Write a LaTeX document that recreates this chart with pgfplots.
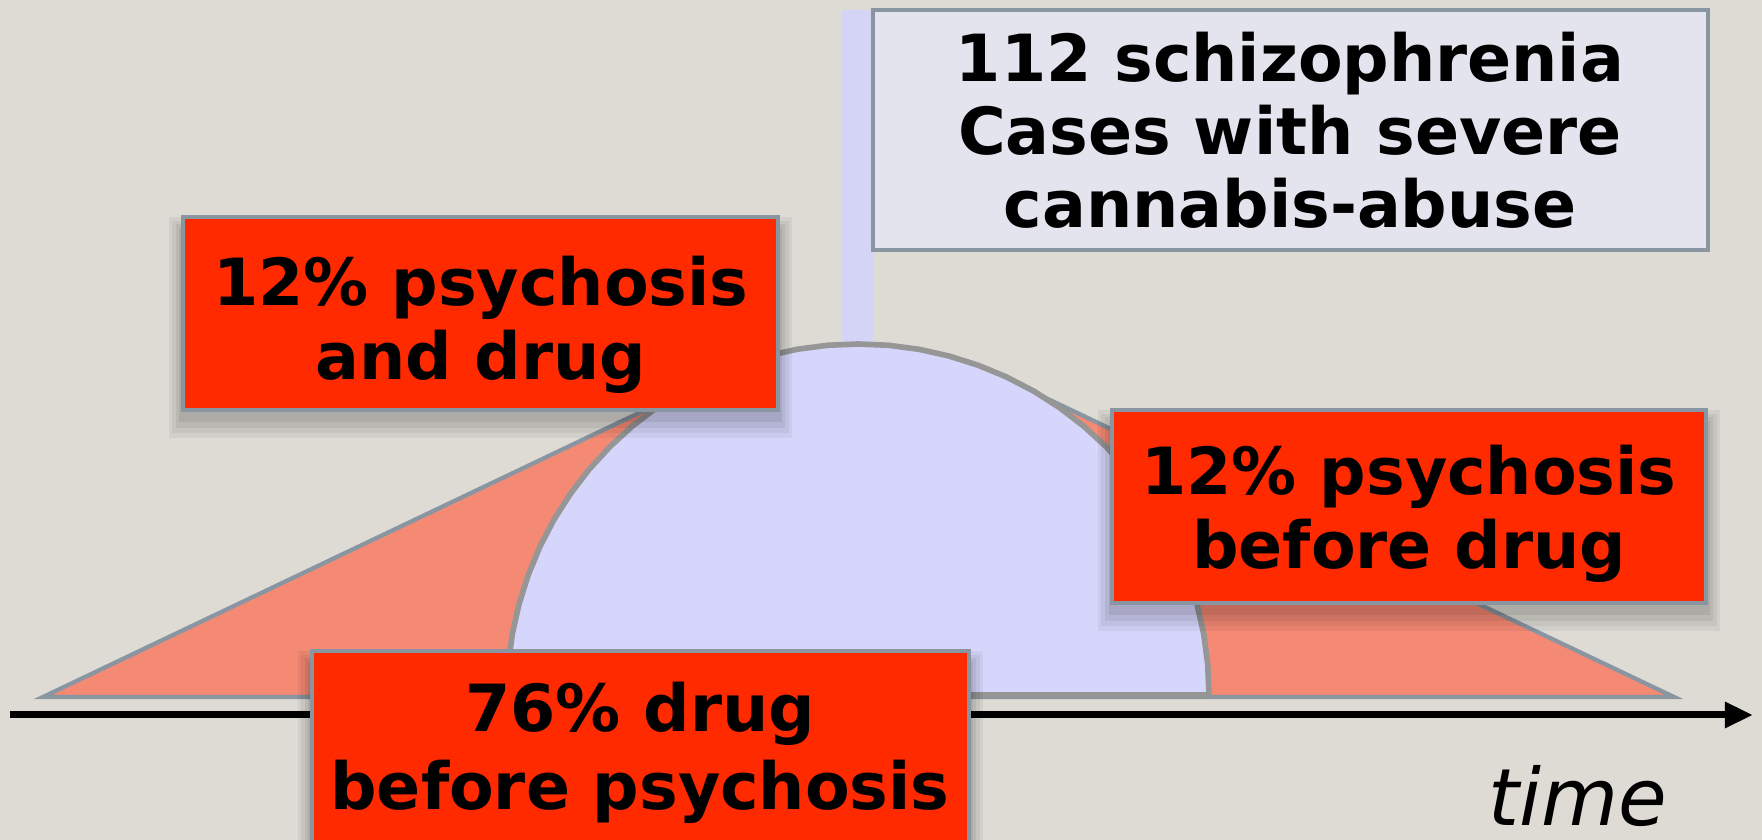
\documentclass[border=0pt]{standalone}
\usepackage{pgfplots}
\pgfplotsset{compat=1.18}
\usepackage{fontspec}
\setmainfont{DejaVu Sans}
\usetikzlibrary{arrows.meta}

\definecolor{bg}{HTML}{DDDBD4}
\definecolor{salmon}{HTML}{F48A74}
\definecolor{boxred}{HTML}{FF2A00}
\definecolor{edge}{HTML}{8A95A2}
\definecolor{dome}{HTML}{D6D6FC}
\definecolor{domeedge}{HTML}{969696}
\definecolor{bar}{HTML}{D4D4F6}
\definecolor{boxlav}{HTML}{E4E4EF}

\newcommand\boxfont{\fontsize{18.5}{21}\selectfont\bfseries}
% soft shadow: a few stacked translucent rectangles below a box
\newcommand\shadowbox[4]{%
  \fill[black,opacity=0.05] ([xshift=-4pt,yshift=0pt]axis cs:#1,#2) rectangle ([xshift=4pt,yshift=-8pt]axis cs:#3,#4);
  \fill[black,opacity=0.05] ([xshift=-3pt,yshift=-1pt]axis cs:#1,#2) rectangle ([xshift=3pt,yshift=-6.5pt]axis cs:#3,#4);
  \fill[black,opacity=0.06] ([xshift=-2pt,yshift=-2pt]axis cs:#1,#2) rectangle ([xshift=2pt,yshift=-5pt]axis cs:#3,#4);
  \fill[black,opacity=0.07] ([xshift=-1pt,yshift=-3pt]axis cs:#1,#2) rectangle ([xshift=1pt,yshift=-3.5pt]axis cs:#3,#4);
}

\begin{document}
\begin{tikzpicture}
\begin{axis}[
    name=ax,
    hide axis,
    scale only axis,
    width=17.62cm, height=8.4cm,
    xmin=0, xmax=1762,
    ymin=0, ymax=840,
    y dir=reverse,
    clip=false,
]

% background
\addplot[fill=bg, draw=none] coordinates {(0,0) (1762,0) (1762,840) (0,840)} --cycle;

% salmon triangle (apex hidden under the dome)
\addplot[fill=salmon, draw=edge, line width=1.2pt, line join=miter] coordinates {
    (43,697) (706,381) (858,460) (1010,381) (1674,697)
} --cycle;

% thin vertical bar
\addplot[fill=bar, draw=none] coordinates {(842,10) (874,10) (874,350) (842,350)} --cycle;

% dome
\addplot[fill=dome, draw=domeedge, line width=1.6pt, line join=round] coordinates {
    (1209,695) (1207.7,664.4) (1203.7,634.0) (1197.0,604.2) (1187.8,575.0)
    (1176.1,546.7) (1162.0,519.5) (1145.5,493.7) (1126.9,469.4) (1106.2,446.8)
    (1083.6,426.1) (1059.3,407.5) (1033.5,391.0) (1006.3,376.9) (978.0,365.2)
    (948.8,356.0) (919.0,349.3) (888.6,345.3) (858,344)
    (827.4,345.3) (797.0,349.3) (767.2,356.0) (738.0,365.2) (709.7,376.9)
    (682.5,391.0) (656.7,407.5) (632.4,426.1) (609.8,446.8) (589.1,469.4)
    (570.5,493.7) (554.0,519.5) (539.9,546.7) (528.2,575.0) (519.0,604.2)
    (512.3,634.0) (508.3,664.4) (507,695)
} --cycle;

% time axis
\addplot[black, line width=2pt, -{Triangle[length=8pt,width=7pt]}] coordinates {(10,715) (1753,715)};

% box: 12% psychosis and drug
\shadowbox{183}{217}{778}{410}
\draw[fill=boxred, draw=edge, line width=1.3pt]
    (axis cs:183,217) rectangle (axis cs:778,410);
\node[anchor=base, font=\boxfont] at (axis cs:481,306) {12\% psychosis};
\node[anchor=base, font=\boxfont] at (axis cs:481,380) {and drug};

% box: 112 schizophrenia
\draw[fill=boxlav, draw=edge, line width=1.3pt]
    (axis cs:873,10) rectangle (axis cs:1708,250);
\node[anchor=base, font=\boxfont] at (axis cs:1290,82) {112 schizophrenia};
\node[anchor=base, font=\boxfont] at (axis cs:1290,155) {Cases with severe};
\node[anchor=base, font=\boxfont] at (axis cs:1290,228) {cannabis-abuse};

% box: 12% psychosis before drug
\shadowbox{1112}{410}{1706}{603}
\draw[fill=boxred, draw=edge, line width=1.3pt]
    (axis cs:1112,410) rectangle (axis cs:1706,603);
\node[anchor=base, font=\boxfont] at (axis cs:1409,495) {12\% psychosis};
\node[anchor=base, font=\boxfont] at (axis cs:1409,569) {before drug};

% box: 76% drug before psychosis
\shadowbox{312}{651}{969}{870}
\draw[fill=boxred, draw=edge, line width=1.3pt]
    (axis cs:312,651) rectangle (axis cs:969,870);
\node[anchor=base, font=\boxfont] at (axis cs:640,732) {76\% drug};
\node[anchor=base, font=\boxfont] at (axis cs:640,810) {before psychosis};

% time label
\node[anchor=base, font=\fontsize{22.5}{26}\selectfont\itshape] at (axis cs:1578,826) {time};

\end{axis}
\pgfresetboundingbox
\useasboundingbox (ax.south west) rectangle (ax.north east);
\end{tikzpicture}
\end{document}
